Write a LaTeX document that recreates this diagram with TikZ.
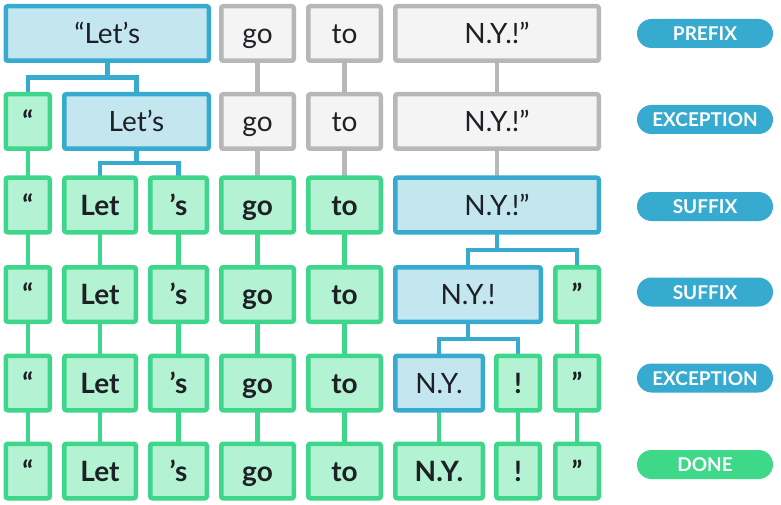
\documentclass[tikz,border=0pt]{standalone}
\usepackage{fontspec}
\setmainfont{Lato}
\usetikzlibrary{backgrounds}
\definecolor{ink}{HTML}{1D2025}
\definecolor{blueline}{HTML}{36ABCF}
\definecolor{bluefill}{HTML}{C3E6EF}
\definecolor{greenline}{HTML}{3DD68B}
\definecolor{greenfill}{HTML}{B4F2D4}
\definecolor{greyline}{HTML}{B7B7B7}
\definecolor{greyfill}{HTML}{F4F4F4}
\definecolor{donegreen}{HTML}{3DD888}
\begin{document}
\begin{tikzpicture}[x=1pt,y=-1pt,
        tok/.style={rectangle,draw,line width=4.5pt,rounded corners=2pt,outer sep=0pt,inner sep=0pt,
            minimum height=54.5pt,text=ink,text height=20.5pt,text depth=0pt,font=\fontsize{28}{28}\selectfont},
        greybox/.style={tok,draw=greyline,fill=greyfill},
        bluebox/.style={tok,draw=blueline,fill=bluefill},
        greenbox/.style={tok,draw=greenline,fill=greenfill,font=\fontsize{28}{28}\selectfont\bfseries},
        greywire/.style={draw=greyline,line width=4.5pt},
        bluewire/.style={draw=blueline,line width=4.5pt},
        greenwire/.style={draw=greenline,line width=4.5pt},
        badge/.style={rectangle,rounded corners=14.5pt,minimum width=136pt,minimum height=29pt,inner sep=0pt,
            text=white,text height=14pt,text depth=0pt,font=\fontsize{19}{19}\selectfont\bfseries}]
        \useasboundingbox (0,0) rectangle (781,505);
        % row 1
        \node[bluebox,minimum width=203pt] at (107.25,33.5) (r1lets) {“Let’s};
        \node[greybox,minimum width=72.5pt] at (257.5,33.5) (r1go) {go};
        \node[greybox,minimum width=72.5pt] at (344.5,33.5) (r1to) {to};
        \node[greybox,minimum width=203.5pt] at (497,33.5) (r1ny) {N.Y.!”};
        % row 2
        \node[greenbox,minimum width=44pt] at (27.75,121.5) (r2q) {“};
        \node[bluebox,minimum width=144.5pt] at (136.5,121.5) (r2lets) {Let’s};
        \node[greybox,minimum width=72.5pt] at (257.5,121.5) (r2go) {go};
        \node[greybox,minimum width=72.5pt] at (344.5,121.5) (r2to) {to};
        \node[greybox,minimum width=203.5pt] at (497,121.5) (r2ny) {N.Y.!”};
        % row 3
        \node[greenbox,minimum width=44pt] at (27.75,205) (r3q) {“};
        \node[greenbox,minimum width=71.5pt] at (100,205) (r3let) {Let};
        \node[greenbox,minimum width=56.5pt] at (178.5,205) (r3s) {’s};
        \node[greenbox,minimum width=72.5pt] at (257.5,205) (r3go) {go};
        \node[greenbox,minimum width=72.5pt] at (344.5,205) (r3to) {to};
        \node[bluebox,minimum width=203.5pt] at (497,205) (r3ny) {N.Y.!”};
        % row 4
        \node[greenbox,minimum width=44pt] at (27.75,294.5) (r4q) {“};
        \node[greenbox,minimum width=71.5pt] at (100,294.5) (r4let) {Let};
        \node[greenbox,minimum width=56.5pt] at (178.5,294.5) (r4s) {’s};
        \node[greenbox,minimum width=72.5pt] at (257.5,294.5) (r4go) {go};
        \node[greenbox,minimum width=72.5pt] at (344.5,294.5) (r4to) {to};
        \node[bluebox,minimum width=145.5pt] at (468,294.5) (r4ny) {N.Y.!};
        \node[greenbox,minimum width=43.5pt] at (577,294.5) (r4rq) {”};
        % row 5
        \node[greenbox,minimum width=44pt] at (27.75,383) (r5q) {“};
        \node[greenbox,minimum width=71.5pt] at (100,383) (r5let) {Let};
        \node[greenbox,minimum width=56.5pt] at (178.5,383) (r5s) {’s};
        \node[greenbox,minimum width=72.5pt] at (257.5,383) (r5go) {go};
        \node[greenbox,minimum width=72.5pt] at (344.5,383) (r5to) {to};
        \node[bluebox,minimum width=87.5pt] at (439,383) (r5ny) {N.Y.};
        \node[greenbox,minimum width=43.5pt] at (518,383) (r5ex) {!};
        \node[greenbox,minimum width=43.5pt] at (577,383) (r5rq) {”};
        % row 6
        \node[greenbox,minimum width=44pt] at (27.75,471) (r6q) {“};
        \node[greenbox,minimum width=71.5pt] at (100,471) (r6let) {Let};
        \node[greenbox,minimum width=56.5pt] at (178.5,471) (r6s) {’s};
        \node[greenbox,minimum width=72.5pt] at (257.5,471) (r6go) {go};
        \node[greenbox,minimum width=72.5pt] at (344.5,471) (r6to) {to};
        \node[greenbox,minimum width=87.5pt] at (439,471) (r6ny) {N.Y.};
        \node[greenbox,minimum width=43.5pt] at (518,471) (r6ex) {!};
        \node[greenbox,minimum width=43.5pt] at (577,471) (r6rq) {”};
        % stage labels
        \node[badge,fill=blueline] at (705,33.5) (prefix) {PREFIX};
        \node[badge,fill=blueline] at (705,119.5) (exc1) {EXCEPTION};
        \node[badge,fill=blueline] at (705,206.5) (suf1) {SUFFIX};
        \node[badge,fill=blueline] at (705,292) (suf2) {SUFFIX};
        \node[badge,fill=blueline] at (705,378) (exc2) {EXCEPTION};
        \node[badge,fill=donegreen] at (705,464.5) (done) {DONE};
        \begin{scope}[on background layer]
            % splits
            \draw[bluewire] (r1lets.south) -- ++(0,16.75) coordinate (j1);
            \draw[bluewire] (r2q.north) |- (j1) -| (r2lets.north);
            \draw[bluewire] (r2lets.south) -- ++(0,14.5) coordinate (j2);
            \draw[bluewire] (r3let.north) |- (j2) -| (r3s.north);
            \draw[bluewire] (r3ny.south) -- ++(0,17.5) coordinate (j3);
            \draw[bluewire] (r4ny.north) |- (j3) -| (r4rq.north);
            \draw[bluewire] (r4ny.south) -- ++(0,17) coordinate (j4);
            \draw[bluewire] (r5ny.north) |- (j4) -| (r5ex.north);
            % unchanged tokens
            \draw[greywire] (r1go) -- (r2go) -- (r3go);
            \draw[greywire] (r1to) -- (r2to) -- (r3to);
            \draw[greywire] (r1ny) -- (r2ny) -- (r3ny);
            \draw[greenwire] (r2q) -- (r6q);
            \draw[greenwire] (r3let) -- (r6let);
            \draw[greenwire] (r3s) -- (r6s);
            \draw[greenwire] (r3go) -- (r6go);
            \draw[greenwire] (r3to) -- (r6to);
            \draw[greenwire] (r4rq) -- (r6rq);
            \draw[greenwire] (r5ex) -- (r6ex);
            \draw[greenwire] (r5ny) -- (r6ny);
        \end{scope}
    \end{tikzpicture}
\end{document}
